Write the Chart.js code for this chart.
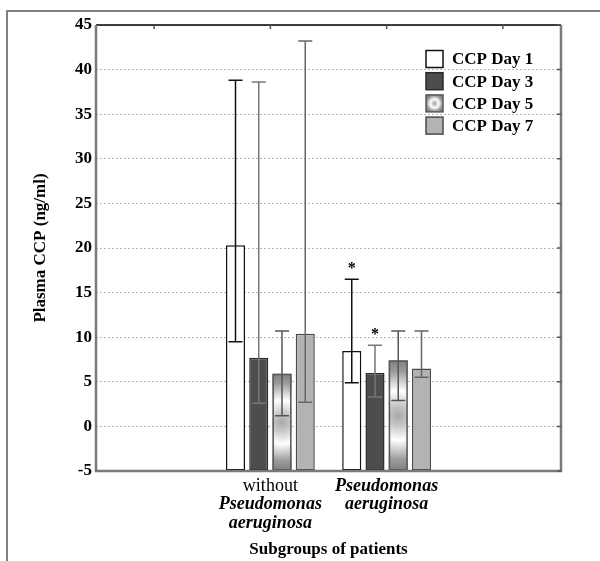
<!DOCTYPE html>
<html>
<head>
<meta charset="utf-8">
<script src="https://cdn.jsdelivr.net/npm/chart.js@4.4.1/dist/chart.umd.min.js"></script>
<style>
  html, body { margin: 0; padding: 0; background: #fff; }
  #wrap { position: relative; width: 600px; height: 561px; overflow: hidden; }
  #frame { position: absolute; left: 6px; top: 10px; width: 700px; height: 700px;
           border-top: 2px solid #808080; border-left: 2px solid #808080; pointer-events: none; }
</style>
</head>
<body>
<div id="wrap"><div id="frame"></div><canvas id="chart"></canvas></div>
<script>
// categories (outer two are empty slots, as in the original axis)
const categoryLines = [[], ['without', 'Pseudomonas', 'aeruginosa'], ['Pseudomonas', 'aeruginosa'], []];
const italicWords = ['Pseudomonas', 'aeruginosa'];

const seriesLabels = ['CCP Day 1', 'CCP Day 3', 'CCP Day 5', 'CCP Day 7'];

// means
const day1 = [null, 20.3, 8.45, null];
const day3 = [null, 7.7, 6.0, null];
const day5 = [null, 5.9, 7.4, null];
const day7 = [null, 10.4, 6.5, null];

// error bar ends
const day1Low = [null, 9.5, 4.9, null];
const day1High = [null, 38.8, 16.5, null];
const day3Low = [null, 2.6, 3.3, null];
const day3High = [null, 38.6, 9.1, null];
const day5Low = [null, 1.2, 2.9, null];
const day5High = [null, 10.7, 10.7, null];
const day7Low = [null, 2.7, 5.5, null];
const day7High = [null, 43.2, 10.7, null];

// significance marks
const day1Sig = ['', '', '*', ''];
const day3Sig = ['', '', '*', ''];
const day5Sig = ['', '', '', ''];
const day7Sig = ['', '', '', ''];

const yMin = -5, yMax = 45, yStep = 5;

const serif = "'Liberation Serif', 'Times New Roman', serif";

const errLow = [day1Low, day3Low, day5Low, day7Low];
const errHigh = [day1High, day3High, day5High, day7High];
const sigMarks = [day1Sig, day3Sig, day5Sig, day7Sig];
const errColors = ['#111', '#777', '#555', '#666'];

// ring-shaped grey/white fill used for day 5
function ringFill(ctx, cx, cy, r) {
  const g = ctx.createRadialGradient(cx, cy, 0, cx, cy, r);
  g.addColorStop(0, '#a8a8a8');
  g.addColorStop(0.18, '#c6c6c6');
  g.addColorStop(0.45, '#ffffff');
  g.addColorStop(0.8, '#9c9c9c');
  g.addColorStop(1, '#808080');
  return g;
}

const ringBars = {
  id: 'ringBars',
  afterDatasetDraw(chart, args) {
    if (args.index !== 2) return;
    const ctx = chart.ctx;
    const vals = chart.data.datasets[2].data;
    args.meta.data.forEach((bar, i) => {
      if (vals[i] == null) return;
      const { x, y, base, width } = bar.getProps(['x', 'y', 'base', 'width'], true);
      const top = Math.min(y, base), h = Math.abs(base - y);
      ctx.save();
      ctx.fillStyle = ringFill(ctx, x, top + h / 2, h / 2);
      ctx.fillRect(x - width / 2, top, width, h);
      ctx.strokeStyle = '#5a5a5a';
      ctx.lineWidth = 1.5;
      ctx.strokeRect(x - width / 2 + 0.75, top + 0.75, width - 1.5, h - 1.5);
      ctx.restore();
    });
  }
};

const errorBars = {
  id: 'errorBars',
  afterDatasetsDraw(chart) {
    const ctx = chart.ctx;
    const yScale = chart.scales.y;
    ctx.save();
    chart.data.datasets.forEach((ds, d) => {
      const meta = chart.getDatasetMeta(d);
      meta.data.forEach((bar, i) => {
        const lo = errLow[d][i], hi = errHigh[d][i];
        if (lo == null || hi == null) return;
        const x = bar.x;
        const yl = yScale.getPixelForValue(lo);
        const yh = yScale.getPixelForValue(hi);
        ctx.strokeStyle = errColors[d];
        ctx.lineWidth = 1.5;
        ctx.beginPath();
        ctx.moveTo(x, yl); ctx.lineTo(x, yh);
        ctx.moveTo(x - 7, yl); ctx.lineTo(x + 7, yl);
        ctx.moveTo(x - 7, yh); ctx.lineTo(x + 7, yh);
        ctx.stroke();
        const mark = sigMarks[d][i];
        if (mark) {
          ctx.fillStyle = '#000';
          ctx.font = 'bold 16px ' + serif;
          ctx.textAlign = 'center';
          ctx.textBaseline = 'middle';
          ctx.fillText(mark, x, yh - 10);
        }
      });
    });
    ctx.restore();
  }
};

const frameAndLabels = {
  id: 'frameAndLabels',
  afterDraw(chart) {
    const ctx = chart.ctx;
    const { left, right, top, bottom } = chart.chartArea;
    const xs = chart.scales.x, ys = chart.scales.y;
    ctx.save();
    // plot frame
    ctx.strokeStyle = '#000';
    ctx.lineWidth = 1.5;
    ctx.beginPath(); ctx.moveTo(left, top); ctx.lineTo(right, top); ctx.stroke();
    ctx.strokeStyle = '#7a7a7a';
    ctx.lineWidth = 2.5;
    ctx.beginPath();
    ctx.moveTo(left, top); ctx.lineTo(left, bottom); ctx.lineTo(right, bottom); ctx.lineTo(right, top);
    ctx.stroke();
    // inner ticks: top at categories, right at y ticks
    ctx.lineWidth = 1.5;
    ctx.strokeStyle = '#555';
    ctx.beginPath();
    categoryLines.forEach((_, i) => {
      const x = xs.getPixelForValue(i);
      ctx.moveTo(x, top); ctx.lineTo(x, top + 4);
    });
    ys.ticks.forEach((t) => {
      const y = ys.getPixelForValue(t.value);
      ctx.moveTo(right, y); ctx.lineTo(right - 4, y);
    });
    ctx.stroke();
    // category labels
    ctx.fillStyle = '#000';
    ctx.textAlign = 'center';
    ctx.textBaseline = 'middle';
    categoryLines.forEach((lines, i) => {
      const x = xs.getPixelForValue(i);
      lines.forEach((word, k) => {
        ctx.font = italicWords.includes(word) ? 'italic bold 18px ' + serif : '18px ' + serif;
        ctx.fillText(word, x, bottom + 15 + k * 18.5);
      });
    });
    // legend
    const bx = right - 135;
    chart.data.datasets.forEach((ds, d) => {
      const cy = top + 34 + d * 22.2;
      const s = 17;
      if (d === 2) {
        ctx.fillStyle = ringFill(ctx, bx + s / 2, cy, s / 2 + 1);
      } else {
        ctx.fillStyle = fills[d];
      }
      ctx.fillRect(bx, cy - s / 2, s, s);
      ctx.strokeStyle = borders[d];
      ctx.lineWidth = 1.5;
      ctx.strokeRect(bx, cy - s / 2, s, s);
      ctx.fillStyle = '#000';
      ctx.font = 'bold 17px ' + serif;
      ctx.textAlign = 'left';
      ctx.fillText(ds.label, bx + 26, cy + 1);
    });
    ctx.restore();
  }
};

const fills = ['#ffffff', '#4d4d4d', '#808080', '#b3b3b3'];
const borders = ['#111111', '#2a2a2a', '#5a5a5a', '#4a4a4a'];
const means = [day1, day3, day5, day7];

new Chart(document.getElementById('chart'), {
  type: 'bar',
  data: {
    labels: categoryLines.map(l => l.join(' ')),
    datasets: means.map((vals, d) => ({
      label: seriesLabels[d],
      data: vals,
      base: yMin,
      backgroundColor: (c) => (c.raw == null ? 'rgba(0,0,0,0)' : fills[d]),
      borderColor: (c) => (c.raw == null ? 'rgba(0,0,0,0)' : borders[d]),
      borderWidth: (c) => (c.raw == null ? 0 : 1.5),
      borderSkipped: false,
      categoryPercentage: 0.8,
      barPercentage: 0.82,
    })),
  },
  options: {
    responsive: true,
    maintainAspectRatio: false,
    animation: false,
    layout: { padding: { top: 25, right: 39, left: 0, bottom: 0 } },
    plugins: { legend: { display: false }, tooltip: { enabled: false } },
    scales: {
      x: {
        grid: { display: false },
        border: { display: false },
        ticks: { display: false },
        title: {
          display: true,
          text: 'Subgroups of patients',
          color: '#000',
          font: { family: serif, size: 17, weight: 'bold' },
          padding: { top: 0, bottom: 1 },
        },
        afterFit: (scale) => { scale.height = 90; },
      },
      y: {
        min: yMin,
        max: yMax,
        ticks: {
          stepSize: yStep,
          color: '#000',
          padding: 4,
          font: { family: serif, size: 17, weight: 'bold' },
        },
        grid: { color: '#b5b5b5', lineWidth: 1, drawTicks: false },
        border: { display: false, dash: [2, 2] },
        title: {
          display: true,
          text: 'Plasma CCP (ng/ml)',
          color: '#000',
          font: { family: serif, size: 17, weight: 'bold' },
          padding: { top: 30, bottom: 0 },
        },
        afterFit: (scale) => { scale.width = 96; },
      },
    },
  },
  plugins: [ringBars, errorBars, frameAndLabels],
});
</script>
</body>
</html>
